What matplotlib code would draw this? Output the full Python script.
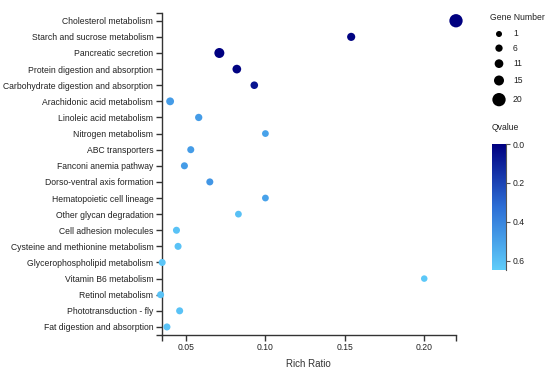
import matplotlib
matplotlib.use("Agg")
import matplotlib.pyplot as plt
import numpy as np
from matplotlib.colors import LinearSegmentedColormap, Normalize

plt.rcParams['font.family'] = ['Liberation Sans', 'DejaVu Sans']

pathways = ["Cholesterol metabolism", "Starch and sucrose metabolism",
            "Pancreatic secretion", "Protein digestion and absorption",
            "Carbohydrate digestion and absorption", "Arachidonic acid metabolism",
            "Linoleic acid metabolism", "Nitrogen metabolism", "ABC transporters",
            "Fanconi anemia pathway", "Dorso-ventral axis formation",
            "Hematopoietic cell lineage", "Other glycan degradation",
            "Cell adhesion molecules", "Cysteine and methionine metabolism",
            "Glycerophospholipid metabolism", "Vitamin B6 metabolism",
            "Retinol metabolism", "Phototransduction - fly",
            "Fat digestion and absorption"]
rich_ratio = [0.220, 0.154, 0.071, 0.082, 0.093, 0.040, 0.058, 0.100, 0.053, 0.049,
              0.065, 0.100, 0.083, 0.044, 0.045, 0.035, 0.200, 0.034, 0.046, 0.038]
gene_number = [20, 9, 15, 11, 7, 8, 6, 4, 5, 5, 5, 4, 4, 5, 5, 5, 3, 5, 5, 5]
qvalue = [0.0, 0.01, 0.0, 0.01, 0.06, 0.48, 0.48, 0.50, 0.48, 0.48,
          0.46, 0.50, 0.60, 0.61, 0.61, 0.62, 0.63, 0.61, 0.61, 0.61]
legend_genes = [1, 6, 11, 15, 20]
qmin, qmax = 0.0, 0.648

W, H = 550, 371
fig = plt.figure(figsize=(W / 100, H / 100), dpi=100)

cmap = LinearSegmentedColormap.from_list("q", ["#000080", "#2d6fd6", "#5fcdfa"])
norm = Normalize(qmin, qmax)


def diam_px(n):
    # size scale
    return np.interp(n, [1, 6, 11, 15, 20], [6.0, 7.3, 8.7, 10.0, 13.3])


def s_pts(n):
    return (diam_px(np.asarray(n)) * 0.72) ** 2


ax = fig.add_axes([161.7 / W, 1 - 335 / H, (456 - 161.7) / W, (335 - 12.7) / H])
y = np.arange(len(pathways))
ax.scatter(rich_ratio, y, s=s_pts(gene_number), c=qvalue, cmap=cmap, norm=norm,
           linewidths=0, clip_on=False, zorder=5)
ax.set_xlim(0.0347, 0.22)
ax.set_ylim(len(pathways) - 0.5, -0.5)
ax.set_yticks(y)
ax.set_yticklabels(pathways)
ax.set_xticks([0.05, 0.10, 0.15, 0.20])
ax.set_xticklabels(["0.05", "0.10", "0.15", "0.20"])
ax.set_xticks([0.0347, 0.22], minor=True)
ax.set_yticks([len(pathways) - 0.5, -0.5], minor=True)
for side in ["top", "right"]:
    ax.spines[side].set_visible(False)
for side in ["left", "bottom"]:
    ax.spines[side].set_color("#333333")
    ax.spines[side].set_linewidth(1.0)
ax.tick_params(which="both", length=4, width=1, color="#333333",
               labelsize=6.2, labelcolor="#222222", pad=2)
ax.set_xlabel("Rich Ratio", fontsize=7, color="#333333", labelpad=5)

# colorbar
cax = fig.add_axes([491.7 / W, 1 - 270 / H, 14 / W, 126 / H])
grad = np.linspace(qmin, qmax, 256).reshape(-1, 1)
cax.imshow(grad, aspect="auto", cmap=cmap, norm=norm,
           extent=[0, 1, qmax, qmin])
cax.set_xticks([])
cax.yaxis.tick_right()
cax.set_yticks([0.0, 0.2, 0.4, 0.6])
cax.set_yticklabels(["0.0", "0.2", "0.4", "0.6"])
cax.set_ylim(qmax, qmin)
for side in ["top", "left", "bottom"]:
    cax.spines[side].set_visible(False)
cax.spines["right"].set_color("#555555")
cax.tick_params(length=3, width=0.8, color="#555555", labelsize=6.2,
                labelcolor="#222222", pad=2)
fig.text(492 / W, 1 - 127 / H, "Qvalue", fontsize=6.2, color="#222222",
         va="center", ha="left")

# gene number legend
lax = fig.add_axes([0, 0, 1, 1])
lax.set_xlim(0, W)
lax.set_ylim(H, 0)
lax.axis("off")
lax.text(490, 17, "Gene Number", fontsize=6.2, color="#222222", va="center")
d = diam_px(np.array(legend_genes))
ly = [34.0]
for i in range(1, len(legend_genes)):
    ly.append(ly[-1] + (d[i - 1] + d[i]) / 2 + 7.5)
lax.scatter([499] * len(legend_genes), ly, s=s_pts(legend_genes), c="black",
            linewidths=0)
for g, yy in zip(legend_genes, ly):
    lax.text(513, yy, str(g), fontsize=6.2, color="#222222", va="center")

fig.savefig("out.png", dpi=100)
